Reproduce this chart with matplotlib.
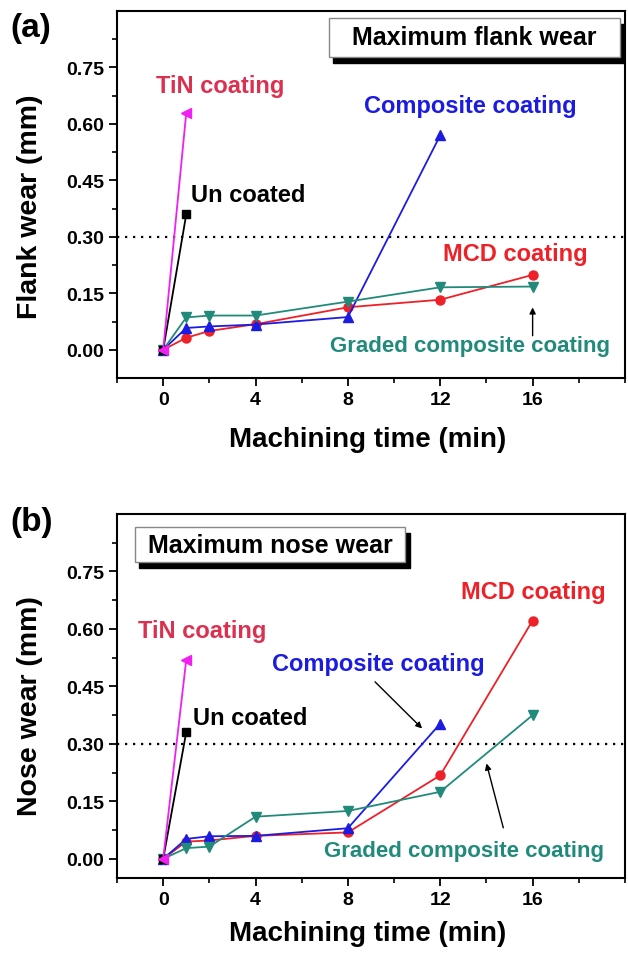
import matplotlib.pyplot as plt
from matplotlib.patches import Rectangle
from matplotlib.ticker import MultipleLocator

plt.rcParams['font.family'] = ['Liberation Sans', 'DejaVu Sans']
plt.rcParams['font.weight'] = 'bold'

# ---- data ----
time_full = [0, 1, 2, 4, 8, 12, 16]
time_comp = [0, 1, 2, 4, 8, 12]
time_short = [0, 1]

# (a) flank wear, mm
mcd_a = [0, 0.032, 0.050, 0.068, 0.113, 0.133, 0.199]
comp_a = [0, 0.058, 0.062, 0.067, 0.087, 0.570]
graded_a = [0, 0.086, 0.091, 0.091, 0.128, 0.166, 0.168]
uncoated_a = [0, 0.36]
tin_a = [0, 0.63]

# (b) nose wear, mm
mcd_b = [0, 0.045, 0.048, 0.060, 0.069, 0.218, 0.622]
comp_b = [0, 0.052, 0.059, 0.060, 0.080, 0.353]
graded_b = [0, 0.028, 0.032, 0.110, 0.125, 0.175, 0.375]
uncoated_b = [0, 0.331]
tin_b = [0, 0.52]

c_mcd = '#ee2028'
c_comp = '#1c1ce0'
c_grad = '#218a7a'
c_tin = '#f020f0'
c_tin_txt = '#dc3050'

fig = plt.figure(figsize=(6.28, 9.54), dpi=100)
ax_a = fig.add_axes([0.1863, 0.6027, 0.8089, 0.3847])
ax_b = fig.add_axes([0.1863, 0.0786, 0.8089, 0.3816])


def draw(ax, mcd, comp, graded, uncoated, tin):
    ax.axhline(0.3, color='k', lw=1.6, ls=(0, (1, 2.6)), zorder=1)
    ax.plot(time_full, mcd, color=c_mcd, marker='o', ms=6.5, lw=1.3)
    ax.plot(time_comp, comp, color=c_comp, marker='^', ms=6.5, lw=1.3)
    ax.plot(time_full, graded, color=c_grad, marker='v', ms=6.5, lw=1.3)
    ax.plot(time_short, uncoated, color='k', marker='s', ms=5.5, lw=1.3)
    ax.plot(time_short, tin, color=c_tin, marker='<', ms=6.5, lw=1.3)
    ax.set_xlim(-2, 20)
    ax.set_xticks([0, 4, 8, 12, 16])
    ax.xaxis.set_minor_locator(MultipleLocator(2))
    ax.set_yticks([0, 0.15, 0.30, 0.45, 0.60, 0.75])
    ax.set_yticks([0.075, 0.225, 0.375, 0.525, 0.675, 0.825], minor=True)
    ax.tick_params(which='major', direction='out', length=6, width=1.3, labelsize=14)
    ax.tick_params(which='minor', direction='out', length=3.5, width=1.2)
    for lab in ax.get_xticklabels() + ax.get_yticklabels():
        lab.set_fontweight('bold')
    for s in ax.spines.values():
        s.set_linewidth(1.5)
    ax.set_xlabel('Machining time (min)', fontsize=20, fontweight='bold')
    ax.xaxis.label.set_va('center')


def title_box(ax, x0, y0, x1, y1, text):
    w, h = x1 - x0, y1 - y0
    ax.add_patch(Rectangle((x0 + 0.009, y0 - 0.016), w, h, transform=ax.transAxes,
                           facecolor='k', edgecolor='k', zorder=5, clip_on=False))
    ax.add_patch(Rectangle((x0, y0), w, h, transform=ax.transAxes,
                           facecolor='white', edgecolor='#888888', lw=1, zorder=6, clip_on=False))
    ax.text(x0 + w / 2, y0 + h / 2, text, transform=ax.transAxes, ha='center', va='center',
            fontsize=18, fontweight='bold', zorder=7)


# ---- panel (a) ----
draw(ax_a, mcd_a, comp_a, graded_a, uncoated_a, tin_a)
ax_a.set_ylim(-0.075, 0.9)
ax_a.set_ylabel('Flank wear (mm)', fontsize=20.5, fontweight='bold')
ax_a.yaxis.label.set_va('center')
ax_a.yaxis.set_label_coords(-0.172, 0.469)
ax_a.xaxis.set_label_coords(0.494, -0.166)
title_box(ax_a, 0.417, 0.875, 0.990, 0.981, 'Maximum flank wear')
ax_a.text(-0.3, 0.703, 'TiN coating', color=c_tin_txt, fontsize=17, va='center')
ax_a.text(1.2, 0.412, 'Un coated', color='k', fontsize=17, va='center')
ax_a.text(8.68, 0.648, 'Composite coating', color=c_comp, fontsize=17, va='center')
ax_a.text(12.1, 0.255, 'MCD coating', color=c_mcd, fontsize=17, va='center')
ax_a.text(7.24, 0.011, 'Graded composite coating', color=c_grad, fontsize=16, va='center')
ax_a.annotate('', xy=(16, 0.12), xytext=(16, 0.03),
              arrowprops=dict(arrowstyle='-|>', color='k', lw=1, mutation_scale=9))

# ---- panel (b) ----
draw(ax_b, mcd_b, comp_b, graded_b, uncoated_b, tin_b)
ax_b.set_ylim(-0.05, 0.9)
ax_b.set_ylabel('Nose wear (mm)', fontsize=20.5, fontweight='bold')
ax_b.yaxis.label.set_va('center')
ax_b.yaxis.set_label_coords(-0.172, 0.475)
ax_b.xaxis.set_label_coords(0.494, -0.152)
title_box(ax_b, 0.035, 0.868, 0.567, 0.964, 'Maximum nose wear')
ax_b.text(-1.08, 0.595, 'TiN coating', color=c_tin_txt, fontsize=17, va='center')
ax_b.text(1.3, 0.369, 'Un coated', color='k', fontsize=17, va='center')
ax_b.text(4.7, 0.51, 'Composite coating', color=c_comp, fontsize=17, va='center')
ax_b.text(12.9, 0.698, 'MCD coating', color=c_mcd, fontsize=17, va='center')
ax_b.text(6.97, 0.022, 'Graded composite coating', color=c_grad, fontsize=16, va='center')
ax_b.annotate('', xy=(11.3, 0.335), xytext=(9.09, 0.467),
              arrowprops=dict(arrowstyle='-|>', color='k', lw=1, mutation_scale=9))
ax_b.annotate('', xy=(13.97, 0.256), xytext=(14.76, 0.074),
              arrowprops=dict(arrowstyle='-|>', color='k', lw=1, mutation_scale=9))

fig.text(0.016, 1 - 28 / 954, '(a)', fontsize=24, fontweight='bold', va='center')
fig.text(0.016, 1 - 522 / 954, '(b)', fontsize=24, fontweight='bold', va='center')

fig.savefig('out.png', dpi=100)
